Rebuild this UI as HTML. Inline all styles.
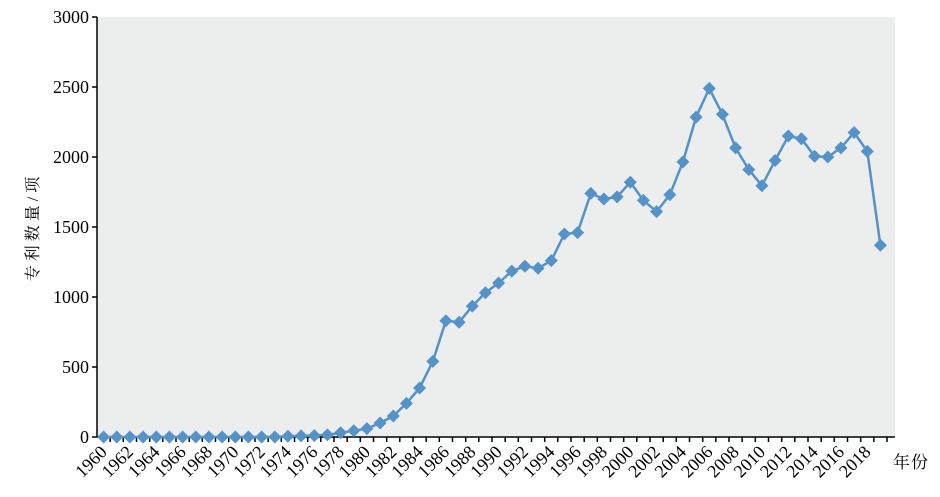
<!DOCTYPE html>
<html><head><meta charset="utf-8"><style>html,body{margin:0;padding:0;background:#fff}svg{display:block}</style></head>
<body>
<svg width="940" height="497" xmlns="http://www.w3.org/2000/svg" font-family="Liberation Serif, serif">
<defs><path id="d" d="M0 -6.5L6.5 0L0 6.5L-6.5 0Z" fill="#5592c8"/></defs>
<rect x="97" y="17" width="798" height="420" fill="#eceeee"/>
<line x1="97" y1="17" x2="97" y2="437" stroke="#000" stroke-width="1.5"/>
<line x1="97" y1="437" x2="895" y2="437" stroke="#000" stroke-width="1.5"/>
<path d="M92 437H97M92 367H97M92 297H97M92 227H97M92 157H97M92 87H97M92 17H97" stroke="#000" stroke-width="1.5"/>
<g font-size="18" text-anchor="end">
<text x="89" y="443">0</text><text x="89" y="373">500</text><text x="89" y="303">1000</text><text x="89" y="233">1500</text><text x="89" y="163">2000</text><text x="89" y="93">2500</text><text x="89" y="23">3000</text>
</g>
<path stroke="#000" stroke-width="1.5" d="M110.2 437v5M123.3 437v5M136.5 437v5M149.7 437v5M162.8 437v5M176 437v5M189.2 437v5M202.3 437v5M215.5 437v5M228.7 437v5M241.8 437v5M255 437v5M268.2 437v5M281.3 437v5M294.5 437v5M307.7 437v5M320.8 437v5M334 437v5M347.2 437v5M360.3 437v5M373.5 437v5M386.7 437v5M399.8 437v5M413 437v5M426.2 437v5M439.3 437v5M452.5 437v5M465.7 437v5M478.8 437v5M492 437v5M505.2 437v5M518.3 437v5M531.5 437v5M544.7 437v5M557.8 437v5M571 437v5M584.2 437v5M597.3 437v5M610.5 437v5M623.7 437v5M636.8 437v5M650 437v5M663.2 437v5M676.3 437v5M689.5 437v5M702.7 437v5M715.8 437v5M729 437v5M742.2 437v5M755.3 437v5M768.5 437v5M781.7 437v5M794.8 437v5M808 437v5M821.2 437v5M834.3 437v5M847.5 437v5M860.7 437v5M873.8 437v5M887 437v5"/>
<g font-size="18" text-anchor="end">
<text transform="translate(108,453) rotate(-45)">1960</text>
<text transform="translate(134.3,453) rotate(-45)">1962</text>
<text transform="translate(160.7,453) rotate(-45)">1964</text>
<text transform="translate(187,453) rotate(-45)">1966</text>
<text transform="translate(213.3,453) rotate(-45)">1968</text>
<text transform="translate(239.7,453) rotate(-45)">1970</text>
<text transform="translate(266,453) rotate(-45)">1972</text>
<text transform="translate(292.3,453) rotate(-45)">1974</text>
<text transform="translate(318.7,453) rotate(-45)">1976</text>
<text transform="translate(345,453) rotate(-45)">1978</text>
<text transform="translate(371.3,453) rotate(-45)">1980</text>
<text transform="translate(397.7,453) rotate(-45)">1982</text>
<text transform="translate(424,453) rotate(-45)">1984</text>
<text transform="translate(450.3,453) rotate(-45)">1986</text>
<text transform="translate(476.7,453) rotate(-45)">1988</text>
<text transform="translate(503,453) rotate(-45)">1990</text>
<text transform="translate(529.3,453) rotate(-45)">1992</text>
<text transform="translate(555.7,453) rotate(-45)">1994</text>
<text transform="translate(582,453) rotate(-45)">1996</text>
<text transform="translate(608.3,453) rotate(-45)">1998</text>
<text transform="translate(634.7,453) rotate(-45)">2000</text>
<text transform="translate(661,453) rotate(-45)">2002</text>
<text transform="translate(687.3,453) rotate(-45)">2004</text>
<text transform="translate(713.7,453) rotate(-45)">2006</text>
<text transform="translate(740,453) rotate(-45)">2008</text>
<text transform="translate(766.3,453) rotate(-45)">2010</text>
<text transform="translate(792.7,453) rotate(-45)">2012</text>
<text transform="translate(819,453) rotate(-45)">2014</text>
<text transform="translate(845.3,453) rotate(-45)">2016</text>
<text transform="translate(871.7,453) rotate(-45)">2018</text>
</g>
<text x="38" y="227" font-family="Liberation Serif, Noto Serif CJK SC, serif" font-size="16" text-anchor="middle" letter-spacing="4" transform="rotate(-90 38 227)">专利数量/项</text>
<text x="893" y="468" font-family="Liberation Serif, Noto Serif CJK SC, serif" font-size="17" letter-spacing="1">年份</text>
<path fill="none" stroke="#5592c8" stroke-width="2.5" stroke-linejoin="round" d="M103.6 437L116.8 437L129.9 437L143.1 437L156.3 437L169.4 437L182.6 437L195.8 437L208.9 437L222.1 437L235.3 437L248.4 437L261.6 437L274.8 437L287.9 436.3L301.1 435.9L314.3 435.6L327.4 434.9L340.6 432.8L353.8 430.7L366.9 428.6L380.1 423L393.3 416L406.4 403.4L419.6 388L432.8 361.4L445.9 320.8L459.1 322.2L472.3 306.1L485.4 292.8L498.6 283L511.8 271.1L524.9 266.2L538.1 268.3L551.3 260.6L564.4 234L577.6 232.6L590.8 193.4L603.9 199L617.1 196.9L630.3 182.2L643.4 200.4L656.6 211.6L669.8 194.8L682.9 161.9L696.1 117.1L709.3 88.4L722.4 114.3L735.6 147.9L748.8 169.6L761.9 185.7L775.1 160.5L788.3 136L801.4 138.8L814.6 156.3L827.8 157L840.9 147.9L854.1 132.5L867.3 151.4L880.4 245.2"/>
<g>
<use href="#d" x="103.6" y="437"/><use href="#d" x="116.8" y="437"/><use href="#d" x="129.9" y="437"/><use href="#d" x="143.1" y="437"/><use href="#d" x="156.3" y="437"/><use href="#d" x="169.4" y="437"/><use href="#d" x="182.6" y="437"/><use href="#d" x="195.8" y="437"/><use href="#d" x="208.9" y="437"/><use href="#d" x="222.1" y="437"/><use href="#d" x="235.3" y="437"/><use href="#d" x="248.4" y="437"/><use href="#d" x="261.6" y="437"/><use href="#d" x="274.8" y="437"/><use href="#d" x="287.9" y="436.3"/><use href="#d" x="301.1" y="435.9"/><use href="#d" x="314.3" y="435.6"/><use href="#d" x="327.4" y="434.9"/><use href="#d" x="340.6" y="432.8"/><use href="#d" x="353.8" y="430.7"/><use href="#d" x="366.9" y="428.6"/><use href="#d" x="380.1" y="423"/><use href="#d" x="393.3" y="416"/><use href="#d" x="406.4" y="403.4"/><use href="#d" x="419.6" y="388"/><use href="#d" x="432.8" y="361.4"/><use href="#d" x="445.9" y="320.8"/><use href="#d" x="459.1" y="322.2"/><use href="#d" x="472.3" y="306.1"/><use href="#d" x="485.4" y="292.8"/><use href="#d" x="498.6" y="283"/><use href="#d" x="511.8" y="271.1"/><use href="#d" x="524.9" y="266.2"/><use href="#d" x="538.1" y="268.3"/><use href="#d" x="551.3" y="260.6"/><use href="#d" x="564.4" y="234"/><use href="#d" x="577.6" y="232.6"/><use href="#d" x="590.8" y="193.4"/><use href="#d" x="603.9" y="199"/><use href="#d" x="617.1" y="196.9"/><use href="#d" x="630.3" y="182.2"/><use href="#d" x="643.4" y="200.4"/><use href="#d" x="656.6" y="211.6"/><use href="#d" x="669.8" y="194.8"/><use href="#d" x="682.9" y="161.9"/><use href="#d" x="696.1" y="117.1"/><use href="#d" x="709.3" y="88.4"/><use href="#d" x="722.4" y="114.3"/><use href="#d" x="735.6" y="147.9"/><use href="#d" x="748.8" y="169.6"/><use href="#d" x="761.9" y="185.7"/><use href="#d" x="775.1" y="160.5"/><use href="#d" x="788.3" y="136"/><use href="#d" x="801.4" y="138.8"/><use href="#d" x="814.6" y="156.3"/><use href="#d" x="827.8" y="157"/><use href="#d" x="840.9" y="147.9"/><use href="#d" x="854.1" y="132.5"/><use href="#d" x="867.3" y="151.4"/><use href="#d" x="880.4" y="245.2"/>
</g>
</svg>
</body></html>
